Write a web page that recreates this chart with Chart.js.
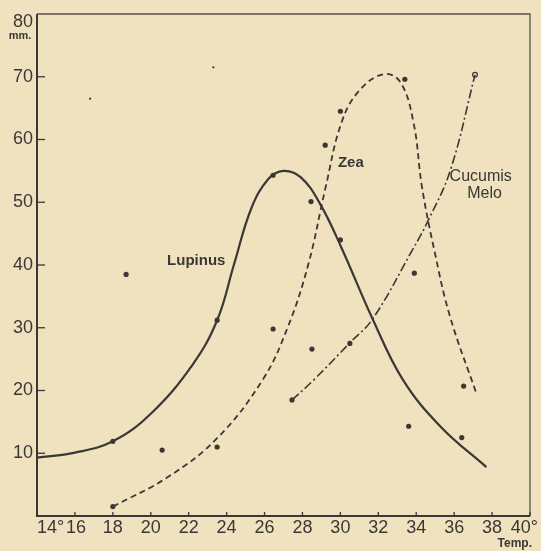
<!DOCTYPE html>
<html lang="en">
<head>
    <meta charset="UTF-8">
    <title>Lupinus, Zea, Cucumis Melo</title>
    <script src="https://cdn.jsdelivr.net/npm/chart.js"></script>
    <style>
        body { margin: 0; background: #f0e2be; }
        canvas { display: block; }
    </style>
</head>
<body>

<canvas id="growthChart" width="541" height="551"></canvas>

<script>
    // tick labels
    const xTicks = [14, 16, 18, 20, 22, 24, 26, 28, 30, 32, 34, 36, 38, 40];
    const yTicks = [10, 20, 30, 40, 50, 60, 70, 80];

    // curves (temperature, mm)
    const lupinusX = [14, 16, 18, 20, 22.2, 23.5, 24.4, 25.3, 26.2, 27, 27.9, 28.9, 30.05, 31.7, 33.3, 35.3, 37.7];
    const lupinusY = [9.3, 10.1, 11.9, 16.3, 24.1, 31.2, 40.2, 49, 53.7, 55, 54, 49.9, 42.8, 31.4, 21.7, 14.2, 7.8];

    const zeaX = [18, 20.9, 23.5, 25.9, 27.2, 28.3, 29.2, 30.07, 31, 32.27, 33.15, 33.85, 34.3, 34.95, 35.78, 37.2];
    const zeaY = [1.5, 6.2, 12.4, 21.7, 29.9, 40, 52.1, 62.8, 67.8, 70.4, 69.2, 62.8, 52.5, 42.4, 31.8, 19.3];

    const cucumisX = [27.45, 28.6, 30.5, 31.7, 33.8, 34.6, 35.8, 37.1];
    const cucumisY = [18.5, 21.7, 27.6, 31.4, 42.4, 46.9, 55.1, 70.3];

    // observed points
    const dotX = [18, 18, 18.7, 20.6, 23.5, 23.5, 26.45, 26.45, 27.45, 28.45, 28.5, 29.2, 30, 30, 30.5, 33.4, 33.6, 33.9, 36.4, 36.5];
    const dotY = [1.5, 11.9, 38.5, 10.5, 31.2, 11, 54.3, 29.8, 18.5, 50.1, 26.6, 59.1, 64.5, 44, 27.5, 69.6, 14.3, 38.7, 12.5, 20.7];
    const speckX = [16.8, 23.3];
    const speckY = [66.5, 71.5];
    const openX = [37.1];
    const openY = [70.3];

    // curve names, placed in data units
    const curveLabels = [
        { text: 'Lupinus', x: 22.4, y: 40.6, bold: true },
        { text: 'Zea', x: 30.55, y: 56.3, bold: true },
        { text: 'Cucumis', x: 37.4, y: 54.1, bold: false },
        { text: 'Melo', x: 37.6, y: 51.4, bold: false }
    ];

    const ink = '#3a3836';
    const toPts = (xs, ys) => xs.map((x, i) => ({ x: x, y: ys[i] }));

    const paperPlugin = {
        id: 'paper',
        beforeDraw(chart) {
            const c = chart.ctx;
            c.save();
            c.fillStyle = '#f0e2be';
            c.fillRect(0, 0, chart.width, chart.height);
            c.restore();
        },
        afterDraw(chart) {
            const c = chart.ctx;
            const a = chart.chartArea;
            const xs = chart.scales.x;
            const ys = chart.scales.y;
            c.save();

            // frame
            c.strokeStyle = '#55524e';
            c.lineWidth = 1.3;
            c.beginPath();
            c.moveTo(a.left, a.top);
            c.lineTo(a.right, a.top);
            c.lineTo(a.right, a.bottom);
            c.stroke();
            c.lineWidth = 2;
            c.strokeStyle = ink;
            c.beginPath();
            c.moveTo(a.left, a.top);
            c.lineTo(a.left, a.bottom);
            c.lineTo(a.right, a.bottom);
            c.stroke();

            // inner ticks
            c.lineWidth = 1.3;
            yTicks.forEach(v => {
                if (v === 80) return;
                const py = ys.getPixelForValue(v);
                c.beginPath();
                c.moveTo(a.left, py);
                c.lineTo(a.left + 8, py);
                c.stroke();
            });
            xTicks.forEach(v => {
                const px = xs.getPixelForValue(v);
                c.beginPath();
                c.moveTo(px, a.bottom);
                c.lineTo(px, a.bottom - 4);
                c.stroke();
            });

            // tick labels
            c.fillStyle = ink;
            c.font = '18px "Liberation Sans", Arial, sans-serif';
            c.textBaseline = 'middle';
            c.textAlign = 'right';
            yTicks.forEach(v => {
                let py = ys.getPixelForValue(v);
                if (v === 80) py += 8;
                c.fillText(String(v), a.left - 4, py);
            });
            c.textBaseline = 'top';
            xTicks.forEach(v => {
                const px = xs.getPixelForValue(v);
                if (v === 14) {
                    c.textAlign = 'left';
                    c.fillText('14°', px, a.bottom + 3);
                } else if (v === 40) {
                    c.textAlign = 'right';
                    c.fillText('40°', px + 8, a.bottom + 3);
                } else {
                    c.textAlign = 'center';
                    c.fillText(String(v), px + (v === 16 ? 1 : 0), a.bottom + 3);
                }
            });

            // axis units
            c.font = 'bold 11px "Liberation Sans", Arial, sans-serif';
            c.textAlign = 'center';
            c.fillText('mm.', a.left - 17, a.top + 16);
            c.font = 'bold 12px "Liberation Sans", Arial, sans-serif';
            c.textAlign = 'right';
            c.fillText('Temp.', a.right + 2, a.bottom + 22);

            // curve names
            c.textAlign = 'center';
            c.textBaseline = 'middle';
            curveLabels.forEach(l => {
                c.font = (l.bold ? 'bold 15px' : '16px') + ' "Liberation Sans", Arial, sans-serif';
                c.fillText(l.text, xs.getPixelForValue(l.x), ys.getPixelForValue(l.y));
            });
            c.restore();
        }
    };

    const ctx = document.getElementById('growthChart').getContext('2d');
    const growthChart = new Chart(ctx, {
        type: 'line',
        data: {
            datasets: [
                {
                    label: 'Lupinus',
                    data: toPts(lupinusX, lupinusY),
                    borderColor: ink,
                    borderWidth: 2.2,
                    pointRadius: 0,
                    tension: 0.4
                },
                {
                    label: 'Zea',
                    data: toPts(zeaX, zeaY),
                    borderColor: ink,
                    borderWidth: 1.8,
                    borderDash: [6, 4],
                    pointRadius: 0,
                    tension: 0.4
                },
                {
                    label: 'Cucumis Melo',
                    data: toPts(cucumisX, cucumisY),
                    borderColor: ink,
                    borderWidth: 1.6,
                    borderDash: [9, 3, 2, 3],
                    pointRadius: 0,
                    tension: 0.4
                },
                {
                    type: 'scatter',
                    label: 'points',
                    data: toPts(dotX, dotY),
                    pointRadius: 2.6,
                    pointBackgroundColor: ink,
                    pointBorderWidth: 0
                },
                {
                    type: 'scatter',
                    label: 'specks',
                    data: toPts(speckX, speckY),
                    pointRadius: 1.1,
                    pointBackgroundColor: ink,
                    pointBorderWidth: 0
                },
                {
                    type: 'scatter',
                    label: 'open',
                    data: toPts(openX, openY),
                    pointRadius: 2.4,
                    pointBackgroundColor: '#f0e2be',
                    pointBorderColor: ink,
                    pointBorderWidth: 1.2
                }
            ]
        },
        options: {
            responsive: false,
            animation: false,
            layout: { padding: { top: 14, right: 11, left: 0, bottom: 0 } },
            plugins: { legend: { display: false }, tooltip: { enabled: false } },
            scales: {
                x: {
                    type: 'linear',
                    min: 14,
                    max: 40,
                    grid: { display: false, drawTicks: false },
                    border: { display: false },
                    ticks: { display: false, stepSize: 2 },
                    afterFit: s => { s.height = 35; }
                },
                y: {
                    type: 'linear',
                    min: 0,
                    max: 80,
                    grid: { display: false, drawTicks: false },
                    border: { display: false },
                    ticks: { display: false, stepSize: 10 },
                    afterFit: s => { s.width = 37; }
                }
            }
        },
        plugins: [paperPlugin]
    });
</script>

</body>
</html>
